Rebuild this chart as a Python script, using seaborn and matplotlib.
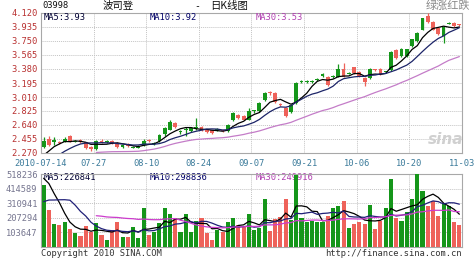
import numpy as np
import pandas as pd
import matplotlib
matplotlib.use("Agg")
import matplotlib.pyplot as plt
import seaborn as sns

# ---------------- data ----------------
date_labels = ["2010-07-14", "07-27", "08-10", "08-24", "09-07",
               "09-21", "10-06", "10-20", "11-03"]

open_ = [2.35, 2.45, 2.42, 2.41, 2.42, 2.50, 2.42, 2.44, 2.41, 2.35,
         2.32, 2.43, 2.41, 2.43, 2.40, 2.35, 2.39, 2.34, 2.34, 2.37,
         2.44, 2.39, 2.43, 2.52, 2.58, 2.67, 2.55, 2.58, 2.56, 2.60,
         2.62, 2.58, 2.57, 2.57, 2.57, 2.56, 2.70, 2.77, 2.76, 2.71,
         2.82, 2.82, 2.97, 3.07, 3.06, 2.91, 2.87, 2.81, 2.93, 3.21,
         3.21, 3.21, 3.235, 3.29, 3.28, 3.28, 3.28, 3.38, 3.32, 3.40,
         3.34, 3.26, 3.26, 3.37, 3.38, 3.34, 3.37, 3.63, 3.55, 3.55,
         3.68, 3.75, 3.90, 4.08, 4.00, 3.92, 3.82, 3.98, 3.99, 3.965]
close_ = [2.43, 2.38, 2.44, 2.40, 2.46, 2.42, 2.43, 2.41, 2.34, 2.32,
          2.43, 2.42, 2.42, 2.40, 2.35, 2.37, 2.36, 2.345, 2.35, 2.43,
          2.43, 2.40, 2.51, 2.60, 2.68, 2.61, 2.555, 2.585, 2.60, 2.605,
          2.57, 2.55, 2.53, 2.575, 2.565, 2.64, 2.80, 2.73, 2.71, 2.83,
          2.825, 2.93, 3.06, 3.06, 2.94, 2.905, 2.76, 2.91, 3.20, 3.215,
          3.215, 3.215, 3.24, 3.32, 3.17, 3.285, 3.38, 3.28, 3.325, 3.33,
          3.28, 3.21, 3.38, 3.365, 3.31, 3.345, 3.61, 3.52, 3.65, 3.64,
          3.77, 3.86, 4.05, 4.00, 3.90, 3.84, 3.94, 3.985, 3.95, 3.96]
high_ = [2.48, 2.49, 2.48, 2.43, 2.48, 2.51, 2.44, 2.45, 2.42, 2.36,
         2.44, 2.45, 2.44, 2.44, 2.41, 2.38, 2.40, 2.36, 2.37, 2.45,
         2.45, 2.41, 2.52, 2.61, 2.70, 2.68, 2.58, 2.62, 2.61, 2.73,
         2.63, 2.59, 2.58, 2.60, 2.58, 2.65, 2.81, 2.78, 2.77, 2.86,
         2.84, 2.94, 3.08, 3.09, 3.07, 2.93, 2.88, 2.92, 3.21, 3.24,
         3.23, 3.23, 3.26, 3.33, 3.29, 3.30, 3.44, 3.46, 3.34, 3.41,
         3.35, 3.27, 3.39, 3.38, 3.39, 3.36, 3.62, 3.64, 3.66, 3.65,
         3.78, 3.87, 4.06, 4.12, 4.01, 3.93, 3.95, 4.00, 4.00, 3.97]
low_ = [2.33, 2.36, 2.38, 2.39, 2.41, 2.41, 2.41, 2.40, 2.32, 2.30,
        2.31, 2.40, 2.40, 2.39, 2.34, 2.34, 2.35, 2.33, 2.33, 2.36,
        2.42, 2.37, 2.42, 2.50, 2.57, 2.60, 2.52, 2.50, 2.55, 2.58,
        2.56, 2.54, 2.52, 2.56, 2.55, 2.55, 2.69, 2.72, 2.70, 2.70,
        2.80, 2.81, 2.96, 3.04, 2.93, 2.89, 2.74, 2.80, 2.92, 3.19,
        3.19, 3.20, 3.22, 3.28, 3.16, 3.26, 3.27, 3.27, 3.31, 3.32,
        3.27, 3.16, 3.25, 3.35, 3.30, 3.33, 3.36, 3.51, 3.54, 3.54,
        3.67, 3.74, 3.89, 3.99, 3.89, 3.83, 3.72, 3.97, 3.94, 3.95]
volume = [440, 263, 163, 156, 175, 125, 97, 80, 149, 109,
          168, 83, 50, 121, 180, 73, 73, 140, 66, 274,
          85, 109, 168, 274, 232, 203, 109, 232, 109, 187,
          203, 97, 50, 121, 109, 175, 203, 156, 144, 232,
          121, 132, 338, 114, 196, 215, 341, 192, 510, 203,
          180, 185, 180, 180, 222, 274, 291, 324, 132, 163,
          175, 163, 298, 125, 187, 274, 480, 203, 187, 251,
          338, 518, 400, 291, 329, 222, 315, 291, 180, 156]  # thousands

# sessions before 07-14 (only used to warm up the moving averages)
prior_close = [2.30, 2.32, 2.31, 2.33, 2.35, 2.34, 2.30, 2.28, 2.20, 2.12,
               2.08, 2.05, 2.03, 2.02, 2.05, 2.10, 2.15, 2.22, 2.30]
prior_volume = [180, 210, 190, 220, 200, 170, 190, 210, 195, 190,
                150, 160, 140, 170, 160, 450, 520, 480, 550]

price_ticks = [2.270, 2.455, 2.640, 2.825, 3.010, 3.195, 3.380,
               3.565, 3.750, 3.935, 4.120]
vol_ticks = [103647, 207294, 310941, 414589, 518236]
ma_price_labels = ["MA5:3.93", "MA10:3.92", "MA30:3.53"]
ma_vol_labels = ["MA5:226841", "MA10:298836", "MA30:249916"]

# ---------------- style ----------------
sns.set_style("white")
plt.rcParams["font.family"] = ["DejaVu Sans Mono", "Noto Sans CJK SC"]
CJK = ["Noto Sans CJK SC", "DejaVu Sans"]

GREEN = "#15961a"
RED = "#ee625a"
MA_COL = ["#000000", "#1c2468", "#c47cc8"]
MAV_COL = ["#000000", "#202078", "#cc3ccc"]
LBL_COL = ["#000033", "#000066", "#b040b0"]
GRID = "#c4c4c4"
SPINE = "#a8a8a8"

W, H = 474, 261
fig = plt.figure(figsize=(W / 100, H / 100), dpi=100)
fig.patch.set_facecolor("white")

def fx(px):
    return px / W

def fy(py):
    return 1 - py / H

L, R = 41, 462
axp = fig.add_axes([fx(L), fy(153), fx(R) - fx(L), (153 - 13) / H])
axv = fig.add_axes([fx(L), fy(247), fx(R) - fx(L), (247 - 174) / H])

n = len(close_)
idx = np.arange(n)
o = np.array(open_); c = np.array(close_)
hi = np.array(high_); lo = np.array(low_)
up = c >= o
col = np.where(up, GREEN, RED)

# moving averages
all_close = pd.Series(prior_close + close_)
all_vol = pd.Series((np.array(prior_volume + volume) * 1000.0))
np_ = len(prior_close)
ma_p = [all_close.rolling(w).mean().values[np_:] for w in (5, 10, 30)]
ma_v = [all_vol.rolling(w).mean().values[np_:] for w in (5, 10, 30)]

# ---------------- price panel ----------------
body_b = np.minimum(o, c)
body_h = np.maximum(np.abs(c - o), 0.012)
axp.vlines(idx, lo, hi, colors=col, lw=0.9, zorder=3)
axp.bar(idx, body_h, bottom=body_b, width=0.72, color=col, lw=0, zorder=4)
for ma, cc in zip(ma_p, MA_COL):
    sns.lineplot(x=idx, y=ma, color=cc, lw=0.9, ax=axp, zorder=5)

axp.set_ylim(price_ticks[0], price_ticks[-1])
axp.set_xlim(-0.5, n - 0.5)
axp.set_yticks(price_ticks)
axp.set_yticklabels([f"{t:.3f}" for t in price_ticks], color="#b83030", fontsize=6.3)
grid_x = [-0.5 + 10 * k for k in range(len(date_labels))]
axp.set_xticks(grid_x)
axp.set_xticklabels(date_labels, color="#3a7a9a", fontsize=6.3)
axp.tick_params(length=0, pad=2.5)
axp.tick_params(axis="x", pad=4)
axp.set_xlabel(""); axp.set_ylabel("")

# ---------------- volume panel ----------------
vdf = pd.DataFrame({"i": idx, "v": np.array(volume) * 1000.0,
                    "d": np.where(up, "up", "down")})
sns.barplot(data=vdf, x="i", y="v", hue="d", palette={"up": GREEN, "down": RED},
            native_scale=True, width=0.78, dodge=False, errorbar=None,
            saturation=1, legend=False, ax=axv, zorder=4, linewidth=0)
for ma, cc in zip(ma_v, MAV_COL):
    sns.lineplot(x=idx, y=ma, color=cc, lw=0.9, ax=axv, zorder=5)
axv.set_ylim(0, vol_ticks[-1])
axv.set_xlim(-0.5, n - 0.5)
axv.set_yticks(vol_ticks)
axv.set_yticklabels([str(t) for t in vol_ticks], color="#75758f", fontsize=6.3)
axv.set_xticks(grid_x)
axv.set_xticklabels([])
axv.tick_params(length=0, pad=2.5)
axv.set_xlabel(""); axv.set_ylabel("")

for ax in (axp, axv):
    ax.set_facecolor("white")
    for gx in grid_x[1:-1]:
        ax.axvline(gx, color=GRID, lw=0.7, ls=(0, (1, 1)), zorder=1)
    for s in ax.spines.values():
        s.set_color(SPINE)
        s.set_linewidth(0.8)
for t in price_ticks[1:-1]:
    axp.axhline(t, color=GRID, lw=0.7, ls=(0, (1, 1)), zorder=1)
for t in vol_ticks[:-1]:
    axv.axhline(t, color=GRID, lw=0.7, ls=(0, (1, 1)), zorder=1)

# MA labels
for lbl, x0, cc in zip(ma_price_labels, (44, 150, 256), LBL_COL):
    fig.text(fx(x0), fy(18), lbl, color=cc, fontsize=6.3, va="center", ha="left")
for lbl, x0, cc in zip(ma_vol_labels, (44, 150, 256), LBL_COL):
    axv.text(fx(x0), fy(178), lbl, color=cc, fontsize=6.3, va="center", ha="left",
             transform=fig.transFigure, zorder=2)

# titles and footer
fig.text(fx(42), fy(6), "03998", fontsize=6.3, color="#111111", va="center", ha="left")
fig.text(fx(118), fy(6), "波司登", fontsize=7.5, color="#111111", va="center",
         ha="center", family=CJK)
fig.text(fx(197), fy(6), "-", fontsize=7, color="#111111", va="center", ha="center")
fig.text(fx(210), fy(6), "日K线图", fontsize=7.5, color="#111111", va="center",
         ha="left", family=CJK)
fig.text(fx(470), fy(6), "绿涨红跌", fontsize=8, color="#8a8a8a", va="center",
         ha="right", family=CJK)
fig.text(fx(446), fy(140), "sina", fontsize=11, color="#d0d0d0", va="center",
         ha="center", style="italic", weight="bold", family=["DejaVu Sans"])
fig.text(fx(41), fy(254), "Copyright 2010 SINA.COM", fontsize=6.3, color="#333333",
         va="center", ha="left")
fig.text(fx(462), fy(254), "http://finance.sina.com.cn", fontsize=6.3, color="#333333",
         va="center", ha="right")

fig.savefig("out.png", dpi=100, facecolor="white")
